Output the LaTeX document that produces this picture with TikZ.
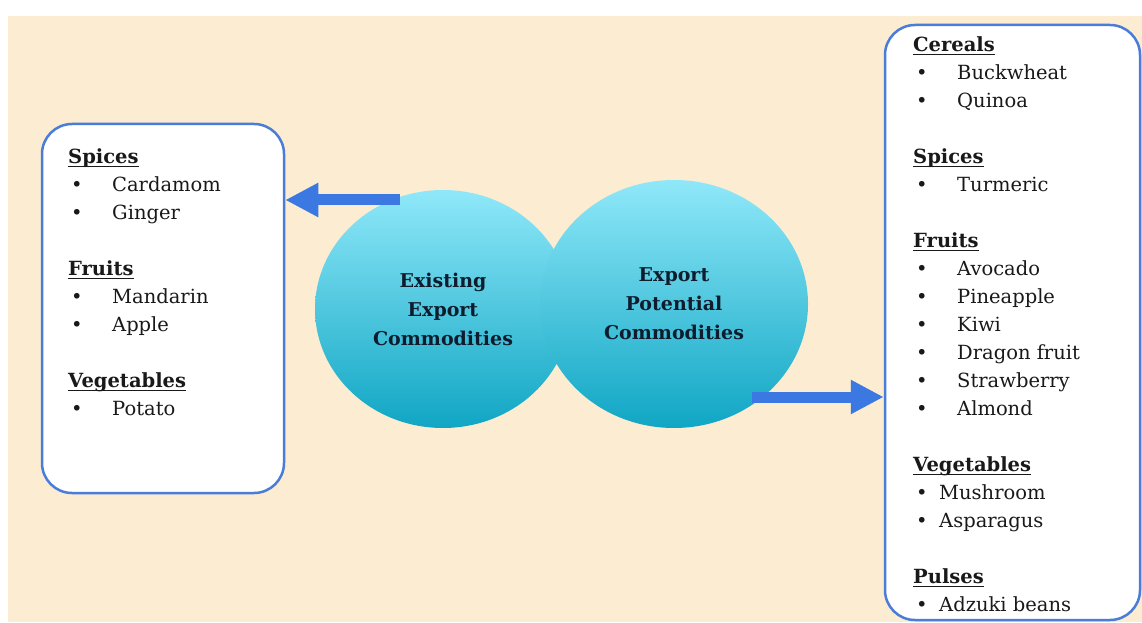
\documentclass[tikz,border=0pt]{standalone}
\usepackage{fontspec}
\setmainfont{DejaVu Serif}
\usetikzlibrary{arrows.meta,positioning,shapes.geometric}
\definecolor{parchment}{RGB}{251,236,210}
\definecolor{boxblue}{RGB}{74,125,216}
\definecolor{arrowblue}{RGB}{59,120,225}
\definecolor{bubbletop}{RGB}{143,232,249}
\definecolor{bubblebot}{RGB}{16,166,196}
\definecolor{navy}{RGB}{15,28,45}
% bold heading with a rule under it at a fixed depth
\newcommand{\cathead}[1]{\setbox0\hbox{\textbf{#1}}\rlap{\rule[-3.5pt]{\wd0}{1.2pt}}\box0}
\newcommand{\bitem}[1]{\makebox[44pt][l]{\hspace{3pt}\textbullet}#1}
\newcommand{\bitemshort}[1]{\makebox[26pt][l]{\hspace{3pt}\textbullet}#1}
\tikzset{
  listbox/.style={draw=boxblue, line width=2.5pt, rounded corners=30pt, fill=white, rectangle, inner sep=0pt},
  listtext/.style={anchor=base west, inner sep=0pt, font=\fontsize{19.5}{28}\selectfont, text=black!90},
  bubble/.style={ellipse, inner sep=0pt, top color=bubbletop, bottom color=bubblebot, draw=none, align=center, font=\fontsize{19}{29}\selectfont\bfseries, text=navy},
  fatarrow/.style={-{Triangle[length=33pt,width=32pt]}, line width=11pt, arrowblue},
}
\begin{document}
\begin{tikzpicture}[x=1pt,y=1pt]
\useasboundingbox (0,0) rectangle (1142,622);
\fill[parchment] (8,0) rectangle (1142,606);
% list boxes
\node[listbox, minimum width=242pt, minimum height=369pt] (oldbox) at (163,313.5) {};
\node[listbox, minimum width=255pt, minimum height=595pt] (newbox) at (1012.5,299.5) {};
\node[listtext] (oldlist) at (68,458) {\begin{tabular}[t]{@{}l@{}}
\cathead{Spices}\\
\bitem{Cardamom}\\
\bitem{Ginger}\\
\\
\cathead{Fruits}\\
\bitem{Mandarin}\\
\bitem{Apple}\\
\\
\cathead{Vegetables}\\
\bitem{Potato}
\end{tabular}};
\node[listtext] (newlist) at (913,570) {\begin{tabular}[t]{@{}l@{}}
\cathead{Cereals}\\
\bitem{Buckwheat}\\
\bitem{Quinoa}\\
\\
\cathead{Spices}\\
\bitem{Turmeric}\\
\\
\cathead{Fruits}\\
\bitem{Avocado}\\
\bitem{Pineapple}\\
\bitem{Kiwi}\\
\bitem{Dragon fruit}\\
\bitem{Strawberry}\\
\bitem{Almond}\\
\\
\cathead{Vegetables}\\
\bitemshort{Mushroom}\\
\bitemshort{Asparagus}\\
\\
\cathead{Pulses}\\
\bitemshort{Adzuki beans}
\end{tabular}};
% the two commodity groups
\node[bubble, minimum width=256pt, minimum height=238pt] (exist) at (443,313) {Existing\\Export\\Commodities};
\node[bubble, minimum width=268pt, minimum height=248pt] (potential) at (674,318) {Export\\Potential\\Commodities};
% arrows out to the lists
\coordinate (oldtail) at (400,422);
\coordinate (newtail) at (752,225);
\draw[fatarrow] (oldtail) -- (oldtail -| oldbox.east);
\draw[fatarrow] (newtail) -- (newtail -| newbox.west);
\end{tikzpicture}
\end{document}
